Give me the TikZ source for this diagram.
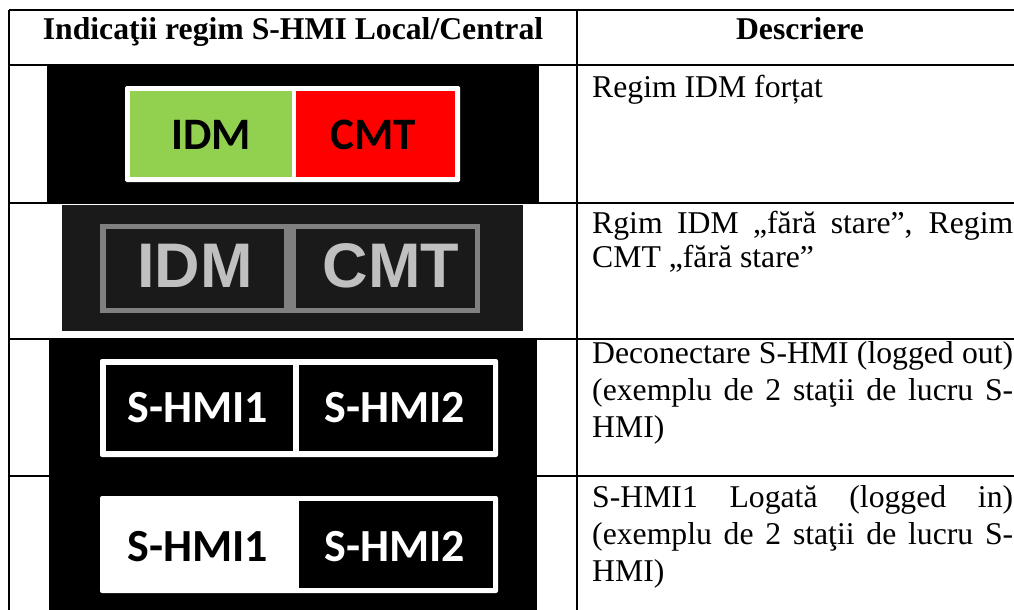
\documentclass[tikz,border=0pt]{standalone}
\usepackage{fontspec}
\setmainfont{Liberation Serif}
\newfontfamily\calib{Carlito}
\newfontfamily\arialf{Liberation Sans}
\usetikzlibrary{calc}
\definecolor{idmgreen}{HTML}{92D050}
\definecolor{darkbg}{HTML}{1A1A1A}
\definecolor{frmgray}{HTML}{808080}
\definecolor{txtgray}{HTML}{C0C0C0}
\def\bodyfont{\fontsize{31.7}{37}\selectfont}
\def\picone{(47,66) rectangle (539,202)}
\def\pictwo{(62,205) rectangle (523,331)}
\def\picthree{(49,339) rectangle (537,610)}

\begin{document}
\begin{tikzpicture}[x=1pt,y=-1pt,
  rule/.style={line width=1.6pt},
  hdr/.style={anchor=base,inner sep=0,font=\bodyfont\bfseries},
  desc/.style={anchor=base west,inner sep=0,text width=421pt,align=justify,font=\bodyfont},
  lbl/.style={inner sep=0,font=\fontsize{45}{45}\selectfont\calib\bfseries},
  hmi/.style={inner sep=0,font=\fontsize{46}{46}\selectfont\calib\bfseries},
  pix/.style={inner sep=0,text=txtgray,font=\fontsize{63}{63}\selectfont\arialf\bfseries}]
\useasboundingbox (0,0) rectangle (1014,610);
% table rules
\foreach \y in {10,65,203,339,476}
  \draw[rule] (9,\y) -- (1014,\y);
\draw[rule] (9,10) -- (9,610);
\draw[rule] (577,10) -- (577,610);
% headers
\node[hdr] (h1) at (293,40) {Indicaţii regim S-HMI Local/Central};
\node[hdr] (h2) at (800,40) {Descriere};
% picture 1: IDM forced
\fill[black]\picone;
\fill[white,rounded corners=1.5pt] (125,86) rectangle (460,182);
\fill[idmgreen] (130,91) rectangle (292,177);
\fill[red] (296,91) rectangle (455,177);
\node[lbl] (idm1) at (211,135) {IDM};
\node[lbl] (cmt1) at (373,135) {CMT};
% picture 2: no state
\fill[darkbg]\pictwo;
\fill[frmgray] (100,224) rectangle (480,313);
\fill[darkbg] (106,229) rectangle (284,308);
\fill[darkbg] (296,229) rectangle (475,308);
\node[pix] (idm2) at (195,266) {IDM};
\node[pix] (cmt2) at (391,266) {CMT};
% picture 3: logged out / logged in
\fill[black]\picthree;
\fill[white,rounded corners=2pt] (100,359) rectangle (498,457);
\fill[black] (106,365) rectangle (293,451);
\fill[black] (299,365) rectangle (493,451);
\node[hmi,text=white] (s1a) at (198,408) {S-HMI1};
\node[hmi,text=white] (s2a) at (395,408) {S-HMI2};
\fill[white,rounded corners=2pt] (100,496) rectangle (498,593);
\fill[black] (299,501) rectangle (493,588);
\node[hmi,text=black] (s1b) at (198,547) {S-HMI1};
\node[hmi,text=white] (s2b) at (395,547) {S-HMI2};
% descriptions
\node[desc] (d1) at (592,97) {Regim IDM forțat};
\node[desc,font=\fontsize{31.7}{34}\selectfont] (d2) at (592,233)
  {Rgim IDM „fără stare”, Regim\linebreak CMT „fără stare”};
\node[desc] (d3) at (592,363)
  {Deconectare S-HMI (logged out)\linebreak (exemplu de 2 staţii de lucru S-\linebreak HMI)};
\node[desc] (d4) at (592,507)
  {S-HMI1 Logată (logged in)\linebreak (exemplu de 2 staţii de lucru S-\linebreak HMI)};
\end{tikzpicture}
\end{document}
